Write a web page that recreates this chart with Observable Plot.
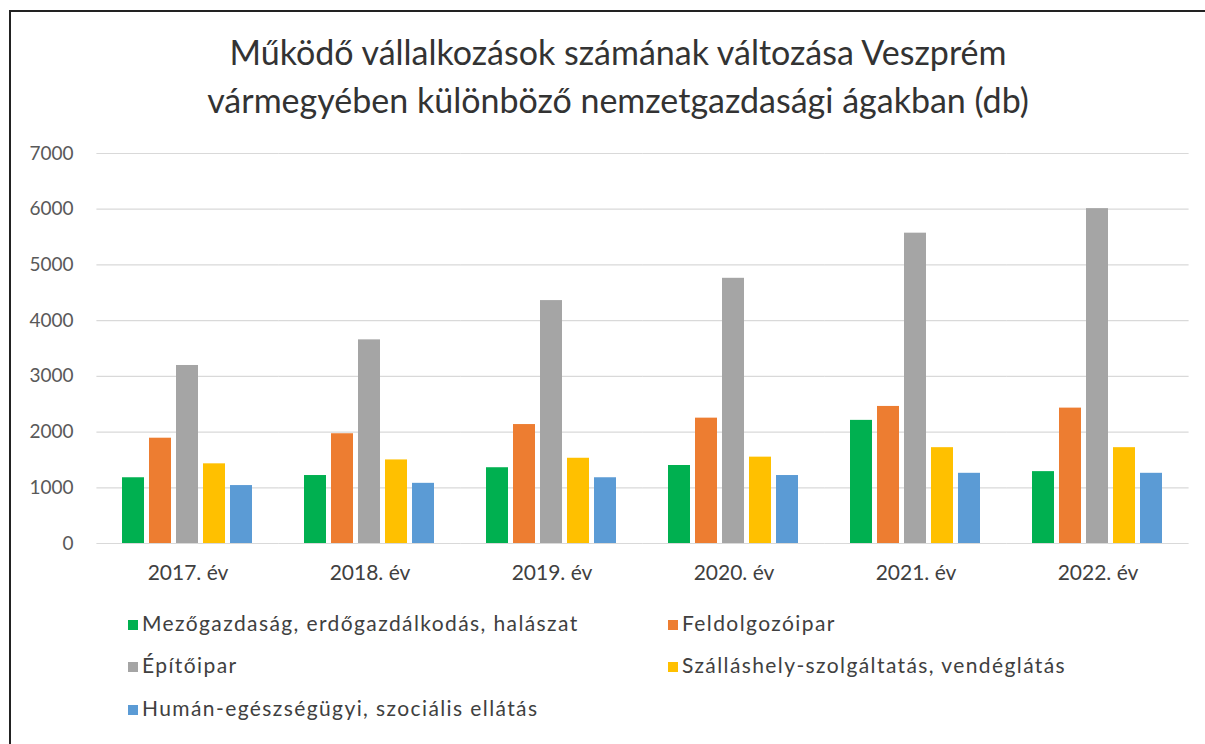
<!DOCTYPE html>
<html><head><meta charset="utf-8">
<script src="https://cdn.jsdelivr.net/npm/d3@7"></script>
<script src="https://cdn.jsdelivr.net/npm/@observablehq/plot@0.6"></script>
<style>
html,body{margin:0;padding:0;background:#fff;width:1205px;height:744px;overflow:hidden;font-family:Lato,"Open Sans",sans-serif;}
#frame{position:absolute;left:9px;top:10px;width:1300px;height:800px;border-left:2px solid #222;border-top:2px solid #222;}
#title{position:absolute;left:18px;top:28px;width:1200px;text-align:center;font-size:34px;line-height:48px;color:#333;}
#chart{position:absolute;left:0;top:130px;}
#legend{position:absolute;left:0;top:0;}
.li{position:absolute;font-size:21px;letter-spacing:1.4px;color:#404040;white-space:nowrap;line-height:22px;}
.li span.sw{display:inline-block;width:10px;height:10px;margin-right:4px;vertical-align:1px;}
</style></head>
<body>
<div id="frame"></div>
<div id="title">Működő vállalkozások számának változása Veszprém<br>vármegyében különböző nemzetgazdasági ágakban (db)</div>
<div id="chart"></div>
<div id="legend"></div>
<script>
const years = ["2017. év", "2018. év", "2019. év", "2020. év", "2021. év", "2022. év"];
const seriesNames = [
  "Mezőgazdaság, erdőgazdálkodás, halászat",
  "Feldolgozóipar",
  "Építőipar",
  "Szálláshely-szolgáltatás, vendéglátás",
  "Humán-egészségügyi, szociális ellátás"
];
const colors = ["#00B050", "#ED7D31", "#A5A5A5", "#FFC000", "#5B9BD5"];
const mezogazdasag = [1180, 1220, 1360, 1400, 2210, 1290];
const feldolgozoipar = [1890, 1970, 2135, 2250, 2460, 2430];
const epitoipar = [3195, 3655, 4360, 4760, 5570, 6010];
const szallashely = [1430, 1500, 1530, 1550, 1720, 1720];
const human = [1040, 1080, 1180, 1220, 1260, 1260];
const yTicks = [0, 1000, 2000, 3000, 4000, 5000, 6000, 7000];

const seriesValues = [mezogazdasag, feldolgozoipar, epitoipar, szallashely, human];
const data = [];
years.forEach((y, i) => seriesNames.forEach((s, j) => data.push({year: y, series: s, value: seriesValues[j][i]})));

const chart = Plot.plot({
  width: 1205,
  height: 463,
  marginLeft: 95,
  marginRight: 15,
  marginTop: 23,
  marginBottom: 50,
  style: {fontFamily: "Lato, sans-serif", background: "transparent"},
  fx: {domain: years, paddingInner: 0.27, paddingOuter: 0.135, label: null, axis: null},
  x: {domain: seriesNames, paddingInner: 0.17, paddingOuter: 0, axis: null},
  y: {domain: [0, 7000], axis: null},
  color: {domain: seriesNames, range: colors},
  marks: [
    Plot.ruleY(yTicks, {stroke: "#d9d9d9", strokeWidth: 1.2, insetLeft: -24.6, insetRight: -24.6}),
    Plot.barY(data, {fx: "year", x: "series", y: "value", fill: "series"}),
    Plot.axisY({ticks: yTicks, tickSize: 0, tickPadding: 48, tickFormat: d => String(d), fontSize: 19, color: "#595959", label: null}),
    Plot.axisFx({anchor: "bottom", tickSize: 0, tickPadding: 22, fontSize: 21, color: "#404040", label: null})
  ]
});
document.getElementById("chart").appendChild(chart);

const legend = document.getElementById("legend");
const pos = [[128, 612], [668, 612], [128, 654], [668, 654], [128, 697]];
seriesNames.forEach((s, i) => {
  const d = document.createElement("div");
  d.className = "li";
  d.style.left = pos[i][0] + "px";
  d.style.top = pos[i][1] + "px";
  d.innerHTML = `<span class="sw" style="background:${colors[i]}"></span>${s}`;
  legend.appendChild(d);
});
</script>
</body></html>
